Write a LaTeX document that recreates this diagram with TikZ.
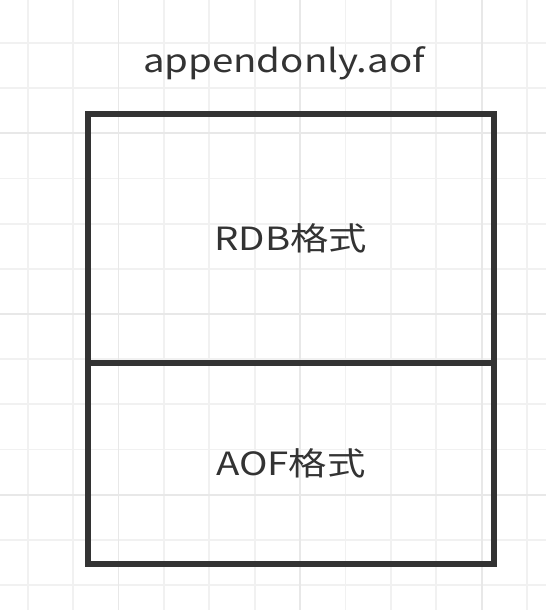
\documentclass[tikz,border=0pt]{standalone}
\usepackage{fontspec}
\setmainfont{Noto Sans CJK SC}[FakeStretch=1.2]
\usetikzlibrary{positioning}

\definecolor{gridminor}{HTML}{F1F1F1}
\definecolor{gridmajor}{HTML}{E8E8E8}
\definecolor{boxline}{HTML}{333333}

\begin{document}
\begin{tikzpicture}[x=1pt,y=-1pt,
    label text/.style={text=boxline,font=\fontsize{32}{38}\selectfont},
    part/.style={label text,draw=boxline,line width=6pt,outer sep=0pt,inner sep=0pt,
      minimum width=406.5pt}]
  \useasboundingbox (0,0) rectangle (546,610);

  % Draw the background grid
  \foreach \k in {0,...,11} {
    \draw[gridminor,line width=1.8pt] ({27.7+45.4*\k},0) -- ({27.7+45.4*\k},610);
  }
  \foreach \k in {-1,...,12} {
    \draw[gridminor,line width=1.8pt] (0,{43+45.17*\k}) -- (546,{43+45.17*\k});
  }
  % every fourth line is a bit darker
  \foreach \k in {2,6,10} {
    \draw[gridmajor,line width=1.8pt] ({27.7+45.4*\k},0) -- ({27.7+45.4*\k},610);
    \draw[gridmajor,line width=1.8pt] (0,{43+45.17*\k}) -- (546,{43+45.17*\k});
  }

  % Draw the file and its two parts
  \node[label text,anchor=base] (file) at (284,72) {appendonly.aof};
  \node[part,minimum height=249pt,anchor=north west] (rdb) at (87.5,114) {RDB格式};
  \node[part,minimum height=200.5pt,below=0pt of rdb] (aof) {AOF格式};
\end{tikzpicture}
\end{document}
